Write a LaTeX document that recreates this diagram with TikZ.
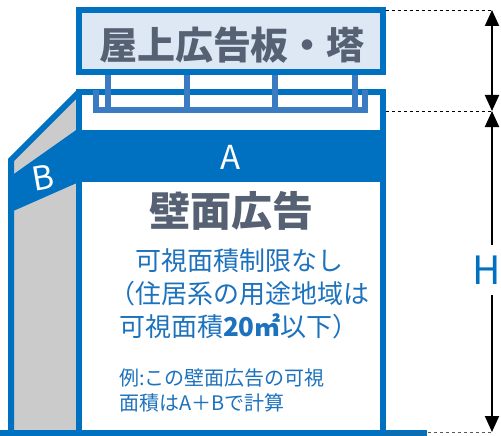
\documentclass[tikz,border=0pt]{standalone}
\usepackage{fontspec}
\newfontfamily\jp{Noto Sans CJK JP}
\usepackage{tikz}
\usetikzlibrary{arrows.meta,positioning}
\definecolor{frameblue}{HTML}{0070C0}
\definecolor{legblue}{HTML}{3A7BC2}
\definecolor{signfill}{HTML}{DEE8F4}
\definecolor{titlegray}{HTML}{566173}
\definecolor{sidegray}{HTML}{CBCBCB}
\definecolor{textblue}{HTML}{1D72BD}

\begin{document}
\begin{tikzpicture}[
    x=1pt, y=-1pt,
    frame/.style={draw=frameblue, line width=6pt},
    leg/.style={draw=legblue, line width=5.5pt},
    guide/.style={dashed, line width=0.9pt},
    dimtip/.tip={Triangle[length=16pt, width=14pt]},
    dimline/.style={line width=2pt},
    title/.style={font=\jp\bfseries\fontsize{38}{40}\selectfont, text=titlegray, inner sep=0pt},
    face/.style={font=\jp\fontsize{33}{33}\selectfont, text=white, inner sep=0pt},
    note/.style={font=\jp\fontsize{26}{33}\selectfont, text=textblue, align=center, inner sep=0pt},
    example/.style={font=\jp\fontsize{20}{25}\selectfont, text=textblue, align=left, inner sep=0pt}
]
    \useasboundingbox (0,0) rectangle (501,436);
    % side face B
    \fill[sidegray] (11,160) -- (79,92) -- (79,433) -- (11,433) -- cycle;
    \fill[frameblue] (11,176) -- (79,128) -- (79,182) -- (11,212) -- cycle;
    \draw[frame] (11,436) -- (11,160) -- (79,92);
    % front face A
    \draw[frame, fill=white] (79,92) rectangle (383,433);
    \fill[frameblue] (79,130) rectangle (383,182);
    \draw[frameblue, line width=6pt] (0,433) -- (427,433);
    \node[face] (a) at (231,157) {A};
    \node[face, rotate=10] (b) at (43,178) {B};
    % roof sign
    \foreach \x in {108,187,275,355}
        \draw[leg] (\x,72) -- (\x,110);
    \draw[leg] (96,90) -- (96,110) -- (365,110) -- (365,90);
    \draw[frame, fill=signfill] (79,10) rectangle (383,72);
    \node[title] (sign) at (232,45) {屋上広告板・塔};
    % texts
    \node[title, font=\jp\bfseries\fontsize{41}{41}\selectfont] (wall) at (231,211) {壁面広告};
    \node[note] (limit) at (239,294) {可視面積制限なし\\（住居系の用途地域は\\可視面積{\bfseries 20㎡}以下）};
    \node[example, anchor=west] (ex) at (119,390) {例:この壁面広告の可視\\面積はA＋Bで計算};
    % dimensions
    \coordinate (t1) at (492,10);
    \coordinate (t2) at (492,111);
    \coordinate (t3) at (492,432);
    \draw[guide] (386,10) -- (t1);
    \draw[guide] (386,111) -- (t2);
    \draw[guide, draw=black!65] (386,432) -- (t3);
    \draw[dimline, dimtip-dimtip] (t1) -- (t2);
    \node[font=\jp\fontsize{39}{39}\selectfont, text=frameblue, inner sep=0pt, minimum height=50pt] (h) at (487,270) {H};
    \draw[dimline, dimtip-] (t2) -- (t2 |- h.north);
    \draw[dimline, -dimtip] (t3 |- h.south) -- (t3);
\end{tikzpicture}
\end{document}
